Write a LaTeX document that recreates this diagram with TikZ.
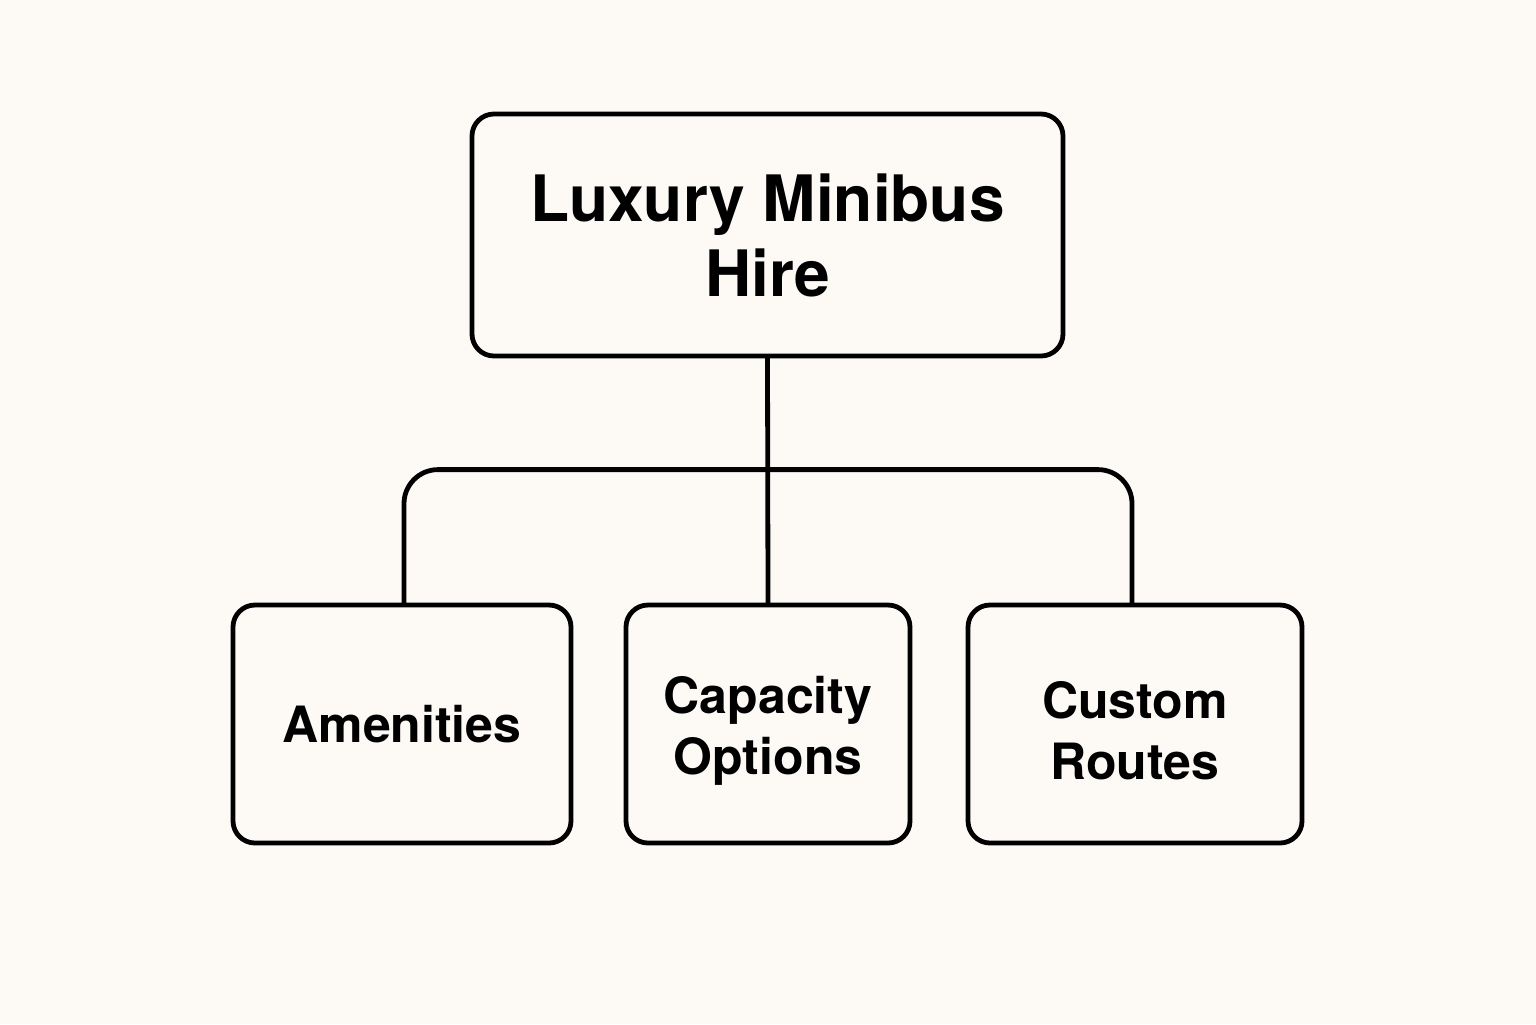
\documentclass[tikz,border=0pt]{standalone}
\usepackage{fontspec}
\setmainfont{TeX Gyre Heros}
\definecolor{bgc}{HTML}{FDFAF6}
\begin{document}
\begin{tikzpicture}[x=0.5pt,y=-0.5pt,
  box/.style={draw=black, line width=2.4pt, rounded corners=11pt, align=center, inner sep=0pt},
  topbox/.style={box, minimum width=295.5pt, minimum height=121pt, font=\fontsize{32}{37.5}\selectfont\bfseries},
  subbox/.style={box, minimum height=119pt, font=\fontsize{25}{30.5}\selectfont\bfseries},
  subtext/.style={align=center, inner sep=0pt, font=\fontsize{25}{30.5}\selectfont\bfseries, yshift=-3.5pt},
  link/.style={line width=2.4pt, line cap=round}]
\fill[bgc] (0,0) rectangle (1536,1024);
\useasboundingbox (0,0) rectangle (1536,1024);
\node[topbox] (top) at (767.5,235) {Luxury Minibus\\Hire};
\node[subbox, minimum width=169pt] (am) at (402,724) {Amenities};
\node[subbox, minimum width=142pt, label={[subtext, name=capt]center:{Capacity\\Options}}] (cap) at (768,724) {};
\node[subbox, minimum width=167pt, label={[subtext, name=cut]center:{Custom\\Routes}}] (cu) at (1135,724) {};
\draw[link] (top.south) -- (cap.north);
\draw[link, rounded corners=17pt] ([xshift=1pt]am.north) -- ++(0,-133) -| ([xshift=-1.5pt]cu.north);
\end{tikzpicture}
\end{document}
